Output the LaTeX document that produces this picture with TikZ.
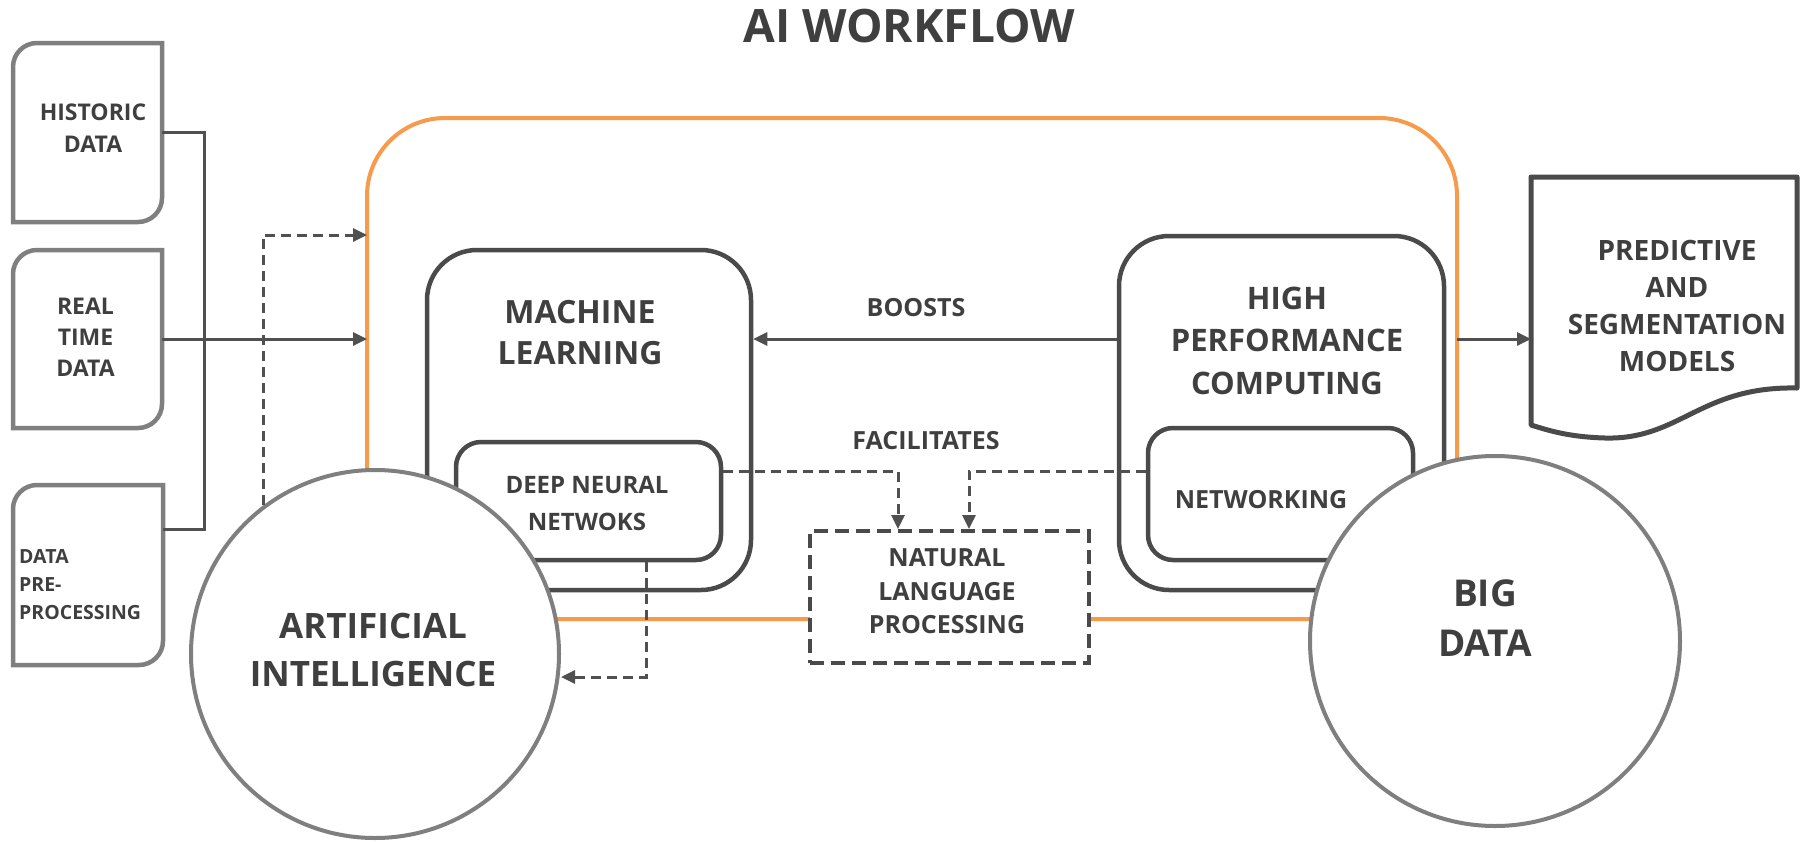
\documentclass[tikz,border=0pt]{standalone}
\usepackage{fontspec}
\setmainfont{Open Sans}
\usepackage{xcolor}
\usepackage{tikz}
\usetikzlibrary{
  positioning,
  calc,
  arrows.meta
}
\definecolor{frameorange}{HTML}{F79A4B}
\definecolor{boxgray}{HTML}{4A4A4A}
\definecolor{ingray}{HTML}{7F7F7F}
\definecolor{txtgray}{HTML}{3F3F3F}
\definecolor{wiregray}{HTML}{505050}
\newcommand{\fs}[2]{\bfseries\fontsize{#1}{#2}\selectfont}
% 角が二つだけ丸い入力ボックス
\newcommand{\inboxpath}[1]{%
  \draw[inline] (#1.south west) -- ($(#1.north west)+(0,24)$)
    arc[start angle=180,end angle=270,radius=24] -- (#1.north east)
    -- ($(#1.south east)+(0,-24)$)
    arc[start angle=0,end angle=90,radius=24] -- cycle;}

\begin{document}
\begin{tikzpicture}[x=1pt,y=-1pt,
  txt/.style={inner sep=0pt,align=center,text=txtgray},
  frame/.style={draw=frameorange,line width=4pt,rounded corners=78pt,outer sep=0pt},
  bigbox/.style={draw=boxgray,line width=4.5pt,rounded corners=50pt},
  smallbox/.style={draw=boxgray,line width=4.5pt,rounded corners=25pt},
  inbox/.style={inner sep=0pt,outer sep=0pt},
  inline/.style={draw=ingray,line width=4.5pt},
  nlpbox/.style={draw=boxgray,fill=white,line width=4pt,dash pattern=on 14pt off 7pt},
  bubble/.style={circle,draw=ingray,fill=white,line width=4pt},
  docline/.style={draw=boxgray,line width=5pt,line join=round},
  wire/.style={draw=wiregray,line width=3pt,-{Triangle[length=14pt,width=13pt]}},
  dashwire/.style={wire,dash pattern=on 10pt off 6pt}
]
  \useasboundingbox (0,0) rectangle (1802,841);

  % タイトル
  \node[txt,font=\fs{46}{50}] (title) at (909,26.5) {AI WORKFLOW};

  % 外枠
  \node[frame,minimum width=1090pt,minimum height=501pt] (frame) at (912,368.5) {};

  % 入力データ
  \node[inbox,minimum width=149pt,minimum height=179pt] (hist) at (87.5,132.5) {};
  \node[inbox,minimum width=149pt,minimum height=178pt] (real) at (87.5,339) {};
  \node[inbox,minimum width=150pt,minimum height=180pt] (pre) at (88,575) {};
  \inboxpath{hist}
  \inboxpath{real}
  \inboxpath{pre}
  \node[txt,font=\fs{23}{31.5}] (histtxt) at (93,128) {HISTORIC\\DATA};
  \node[txt,font=\fs{23}{31}] (realtxt) at (85.5,337.5) {REAL\\TIME\\DATA};
  \node[txt,align=left,anchor=west,font=\fs{19.5}{28}] (pretxt) at (19,585) {DATA\\PRE-\\PROCESSING};

  % 内側のボックス
  \node[bigbox,minimum width=324pt,minimum height=340pt] (ml) at (589,420) {};
  \node[smallbox,minimum width=265pt,minimum height=118pt] (dnn) at (588.5,501) {};
  \node[bigbox,minimum width=325pt,minimum height=354pt] (hpc) at (1281.5,413) {};
  \node[smallbox,minimum width=265pt,minimum height=132pt] (net) at (1280.5,494) {};
  \node[nlpbox,minimum width=279pt,minimum height=132pt] (nlp) at (949.5,597) {};

  % 出力ドキュメント
  \node[inbox,minimum width=266pt,minimum height=248pt] (doc) at (1664,301) {};
  \draw[docline] (doc.north west) -- (doc.north east) -- (1797,388)
    .. controls (1700,386) and (1680,440) .. (1605,438)
    .. controls (1570,437) and (1550,431) .. (doc.south west) -- cycle;

  % 円
  \node[bubble,minimum size=368pt] (ai) at (375,654) {};
  \node[bubble,minimum size=370pt] (bd) at (1495,641) {};

  % 接続線
  \coordinate (bustop) at (204,132.5);
  \coordinate (busbot) at (204,529);
  \coordinate (dtop) at (263,235);
  \coordinate (fa) at (898,471);
  \coordinate (fb) at (969,471);
  \coordinate (dd) at (646,677);
  \draw[wire,-] (hist.east) -- (bustop) -- (busbot) -- (pre.east |- busbot);
  \draw[wire] (real.east) -- (frame.west |- real.east);
  \draw[dashwire] (ai.127) |- (frame.west |- dtop);
  \draw[wire] (hpc.west |- real.east) -- (ml.east |- real.east);
  \draw[wire] (frame.east |- real.east) -- (doc.west |- real.east);
  \draw[dashwire] (dnn.east |- fa) -| (nlp.north -| fa);
  \draw[dashwire] (net.west |- fb) -| (nlp.north -| fb);
  \draw[dashwire] (dnn.south -| dd) |- (ai.east |- dd);

  % ラベル
  \node[txt,font=\fs{32}{41}] (mltxt) at (580,332.5) {MACHINE\\LEARNING};
  \node[txt,font=\fs{24}{37}] (dnntxt) at (587,503.5) {DEEP NEURAL\\NETWOKS};
  \node[txt,font=\fs{31}{42.5}] (hpctxt) at (1287,340.5) {HIGH\\PERFORMANCE\\COMPUTING};
  \node[txt,font=\fs{25}{30}] (nettxt) at (1261,500) {NETWORKING};
  \node[txt,font=\fs{25}{33.5}] (nlptxt) at (947,591.5) {NATURAL\\LANGUAGE\\PROCESSING};
  \node[txt,font=\fs{25}{30}] (boosts) at (916,308) {BOOSTS};
  \node[txt,font=\fs{25}{30}] (facil) at (926,441) {FACILITATES};
  \node[txt,font=\fs{28}{37}] (doctxt) at (1677,306) {PREDICTIVE\\AND\\SEGMENTATION\\MODELS};
  \node[txt,font=\fs{35}{48}] (aitxt) at (373,649.5) {ARTIFICIAL\\INTELLIGENCE};
  \node[txt,font=\fs{37}{50}] (bdtxt) at (1485,618.5) {BIG\\DATA};
\end{tikzpicture}
\end{document}
